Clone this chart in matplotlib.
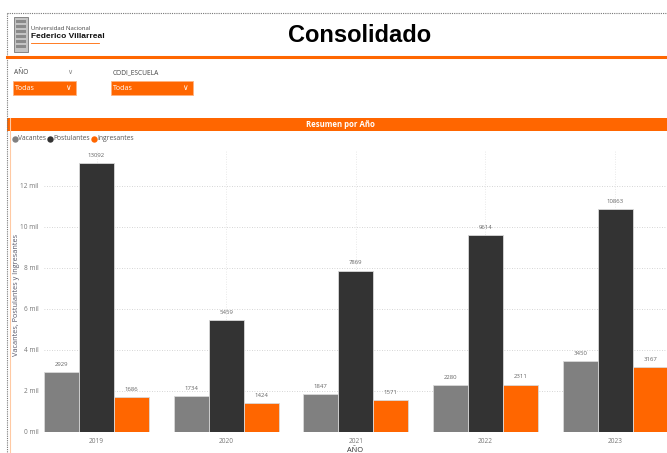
import matplotlib
matplotlib.use("Agg")
from matplotlib import pyplot as plt
from matplotlib.patches import Rectangle
import numpy as np

plt.rcParams['font.family'] = ['Open Sans', 'DejaVu Sans']

W, H = 667, 453
ORANGE = '#ff6600'

years = ['2019', '2020', '2021', '2022', '2023']
vacantes = [2929, 1734, 1847, 2280, 3450]
postulantes = [13092, 5459, 7869, 9614, 10863]
ingresantes = [1686, 1424, 1571, 2311, 3167]

series_names = ['Vacantes', 'Postulantes', 'Ingresantes']
series_colors = ['#808080', '#333333', ORANGE]
yticks = [0, 2000, 4000, 6000, 8000, 10000, 12000]
ytick_labels = ['0 mil', '2 mil', '4 mil', '6 mil', '8 mil', '10 mil', '12 mil']

fig = plt.figure(figsize=(W / 100, H / 100), dpi=100)


def fx(x):
    return x / W


def fy(y):
    return 1 - y / H


# page frame (dotted) and header
fig.add_artist(plt.Line2D([fx(7), fx(667)], [fy(13), fy(13)], color='#777777',
                          lw=0.8, ls=(0, (1, 1))))
fig.add_artist(plt.Line2D([fx(7), fx(7)], [fy(13), fy(453)], color='#777777',
                          lw=0.8, ls=(0, (1, 1))))
fig.add_artist(plt.Line2D([fx(9.5), fx(9.5)], [fy(118), fy(453)], color='#ffc9a3', lw=0.8))
fig.add_artist(plt.Line2D([fx(7), fx(667)], [fy(57), fy(57)], color=ORANGE, lw=2.2))

# logo
fig.add_artist(Rectangle((fx(14), fy(52)), fx(14), 35 / H, facecolor='#c4c4c4',
                         edgecolor='#777777', lw=0.6))
for yy in range(20, 50, 5):
    fig.add_artist(Rectangle((fx(16), fy(yy + 3)), fx(10), 3 / H, facecolor='#8a8a8a',
                             edgecolor='none'))
fig.text(fx(31), fy(29), 'Universidad Nacional', fontsize=4.3, color='#444444',
         va='center', ha='left')
fig.text(fx(31), fy(37), 'Federico Villarreal', fontsize=6, color='#111111',
         va='center', ha='left', fontweight='bold', family='Liberation Sans')
fig.add_artist(plt.Line2D([fx(31), fx(99)], [fy(42.5), fy(42.5)], color=ORANGE, lw=0.6))

fig.text(fx(360), fy(36), 'Consolidado', fontsize=17, fontweight='bold',
         ha='center', va='center', family='Liberation Sans', color='#000000')

# filters
fig.text(fx(14), fy(73), 'AÑO', fontsize=4.8, color='#444444', va='center')
fig.text(fx(70), fy(72), '\u2228', fontsize=5, color='#888888', va='center', ha='center',
         family='DejaVu Sans')
fig.text(fx(113), fy(73), 'CODI_ESCUELA', fontsize=4.8, color='#444444', va='center')
for x0, x1 in [(13, 76), (111, 193)]:
    fig.add_artist(Rectangle((fx(x0), fy(95)), fx(x1 - x0), 14 / H, facecolor=ORANGE,
                             edgecolor='#ffb380', lw=0.6))
    fig.text(fx(x0 + 2), fy(88), 'Todas', fontsize=5, color='white', va='center')
    fig.text(fx(x1 - 8), fy(87.5), '\u2228', fontsize=5.5, color='white', va='center',
             ha='center', family='DejaVu Sans')

# section banner
fig.add_artist(Rectangle((fx(7), fy(131)), 1 - fx(7), 13 / H, facecolor=ORANGE,
                         edgecolor='none'))
fig.text(fx(340), fy(124.5), 'Resumen por Año', fontsize=5.6, color='white',
         fontweight='bold', ha='center', va='center')

# legend
lx = 12
for name, col in zip(series_names, series_colors):
    fig.add_artist(plt.Line2D([fx(lx + 2.5)], [fy(139)], marker='o', ms=4.6, color=col,
                              mec='none'))
    t = fig.text(fx(lx + 5.5), fy(139), name, fontsize=4.9, color='#555555', va='center')
    fig.canvas.draw()
    bb = t.get_window_extent()
    lx = bb.x1 + 2

# chart
ax = fig.add_axes([fx(44), fy(432), fx(667 - 44), (432 - 150) / H])
x = np.arange(len(years))
bw = 0.27
all_vals = [vacantes, postulantes, ingresantes]
for i, (vals, col) in enumerate(zip(all_vals, series_colors)):
    bars = ax.bar(x + (i - 1) * bw, vals, bw, color=col, edgecolor='#d9d9d9', lw=0.6,
                  zorder=3)
    for b, v in zip(bars, vals):
        ax.text(b.get_x() + b.get_width() / 2, v + 250, str(v), ha='center', va='bottom',
                fontsize=4.3, color='#666666', zorder=4)

ax.set_xlim(-0.405, 4.4)
ax.set_ylim(0, 13750)
ax.set_xticks(x)
ax.set_xticklabels(years)
ax.set_yticks(yticks)
ax.set_yticklabels(ytick_labels)
ax.tick_params(length=0, labelsize=4.7, labelcolor='#777777', pad=4)
ax.grid(True, axis='y', ls=(0, (1, 2)), color='#c8c8c8', lw=0.6, zorder=0)
ax.grid(True, axis='x', ls=(0, (1, 2)), color='#e2e2e2', lw=0.6, zorder=0)
for s in ax.spines.values():
    s.set_visible(False)
ax.set_xlabel('AÑO', fontsize=5.3, color='#333333', labelpad=2)
fig.text(fx(17), fy(295), 'Vacantes, Postulantes y Ingresantes', rotation=90,
         fontsize=5.2, color='#555566', ha='center', va='center')

fig.savefig('out.png', dpi=100)
